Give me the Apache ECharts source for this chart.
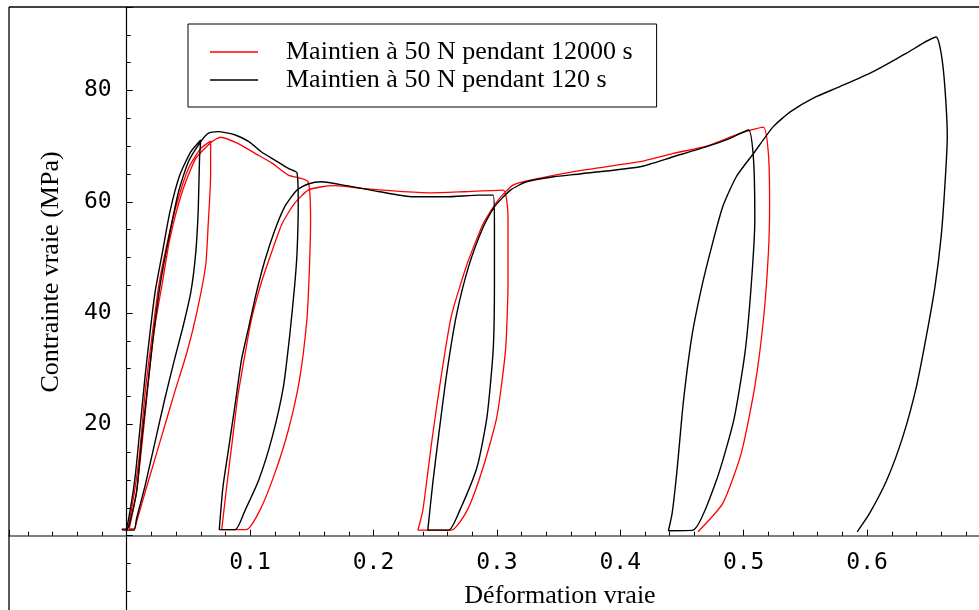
<!DOCTYPE html>
<html>
<head>
<meta charset="utf-8">
<script src="https://cdn.jsdelivr.net/npm/echarts@6/dist/echarts.min.js"></script>
<style>html,body{margin:0;padding:0;background:#fff;}#c{width:979px;height:610px;}</style>
</head>
<body>
<div id="c"></div>
<script>
// Series names
const seriesNames = ['Maintien à 50 N pendant 12000 s', 'Maintien à 50 N pendant 120 s'];
const xAxisName = 'Déformation vraie';
const yAxisName = 'Contrainte vraie (MPa)';

// [true strain, true stress MPa] – hold 12000 s (red)
const red12000 = [
  [-0.004,1.2],[0.000,1.2],[0.004,4.9],[0.010,13.9],[0.015,25.9],[0.021,36.7],[0.026,45.0],[0.033,52.8],[0.041,60.0],[0.050,66.0],[0.060,69.6],[0.068,70.9],
  [0.068,64.8],[0.066,55.8],[0.064,48.6],[0.057,40.3],[0.049,33.1],[0.039,25.9],[0.031,19.9],[0.023,13.9],[0.015,7.9],[0.008,2.5],[0.006,1.2],[0.002,1.2],
  [0.008,7.9],[0.014,19.9],[0.019,30.7],[0.023,37.9],[0.029,45.6],[0.035,53.4],[0.045,61.8],[0.056,67.8],[0.069,70.8],[0.076,71.6],[0.090,70.5],[0.104,68.7],[0.118,66.9],[0.131,64.8],[0.147,63.6],
  [0.149,56.7],[0.148,47.7],[0.146,38.8],[0.140,28.0],[0.131,19.0],[0.120,11.2],[0.108,4.6],[0.097,1.1],[0.077,1.1],
  [0.081,8.8],[0.085,16.0],[0.090,25.0],[0.096,32.8],[0.101,38.8],[0.109,45.4],[0.118,51.3],[0.126,56.1],[0.136,59.7],[0.147,62.1],[0.158,62.7],[0.169,62.9],[0.191,62.4],[0.219,61.9],[0.246,61.6],[0.273,61.8],[0.305,62.1],
  [0.309,57.3],[0.309,45.4],[0.307,33.4],[0.300,21.4],[0.289,12.4],[0.276,4.6],[0.263,1.0],[0.236,1.0],
  [0.240,4.6],[0.247,16.6],[0.254,27.4],[0.263,39.4],[0.276,48.9],[0.289,56.1],[0.301,60.3],[0.313,63.0],[0.327,63.9],[0.367,65.6],[0.416,67.2],[0.443,68.7],[0.470,70.0],[0.497,72.3],[0.516,73.4],
  [0.520,68.7],[0.521,59.7],[0.520,50.7],[0.516,38.8],[0.509,26.8],[0.498,14.8],[0.483,5.8],[0.463,0.7]
];

// [true strain, true stress MPa] – hold 120 s (black)
const black120 = [
  [-0.004,1.1],[-0.001,1.0],[0.003,4.9],[0.007,10.9],[0.011,19.9],[0.015,28.9],[0.019,36.7],[0.023,43.8],[0.029,51.0],[0.035,58.2],[0.043,64.8],[0.052,69.0],[0.060,71.1],
  [0.059,67.8],[0.058,58.8],[0.056,51.0],[0.052,43.8],[0.046,37.9],[0.039,31.9],[0.031,24.7],[0.023,16.9],[0.015,9.1],[0.008,3.1],[0.006,1.0],[0.000,1.0],
  [0.002,1.9],[0.008,7.9],[0.012,16.9],[0.018,28.9],[0.022,36.7],[0.027,45.0],[0.034,53.4],[0.042,61.8],[0.050,67.2],[0.060,70.8],[0.066,72.3],[0.074,72.6],[0.088,72.0],[0.099,70.8],[0.109,69.0],[0.120,67.5],[0.131,66.0],[0.138,65.2],
  [0.139,59.7],[0.138,50.7],[0.136,44.7],[0.132,35.8],[0.127,26.8],[0.118,17.8],[0.107,10.0],[0.096,4.6],[0.088,1.1],[0.075,1.1],
  [0.078,8.8],[0.082,14.8],[0.088,23.8],[0.093,31.6],[0.099,37.6],[0.105,43.6],[0.112,49.5],[0.120,54.9],[0.128,59.1],[0.138,62.1],[0.147,63.2],[0.158,63.6],[0.178,62.9],[0.205,61.8],[0.232,60.9],[0.259,60.9],[0.286,61.2],[0.297,61.2],
  [0.298,55.5],[0.298,45.4],[0.297,33.4],[0.292,21.4],[0.284,12.4],[0.270,4.6],[0.261,1.0],[0.244,1.0],
  [0.248,9.4],[0.253,18.4],[0.259,28.6],[0.267,39.4],[0.277,48.3],[0.289,55.5],[0.298,59.1],[0.311,62.1],[0.324,63.6],[0.346,64.5],[0.367,65.0],[0.416,66.3],[0.443,68.1],[0.470,69.9],[0.489,71.4],[0.504,72.9],
  [0.508,67.5],[0.509,56.7],[0.506,44.7],[0.501,32.8],[0.492,20.8],[0.478,10.0],[0.459,1.0],[0.439,0.9],
  [0.442,4.0],[0.446,11.8],[0.451,23.8],[0.458,35.8],[0.466,44.7],[0.474,51.9],[0.483,59.1],[0.494,64.5],[0.508,68.7],[0.524,73.5],[0.538,76.2],[0.556,78.6],[0.578,80.7],[0.605,83.4],[0.632,86.7],[0.656,89.6],
  [0.660,86.7],[0.663,80.7],[0.665,71.7],[0.663,62.7],[0.660,53.7],[0.655,44.7],[0.648,35.8],[0.640,26.8],[0.629,17.8],[0.616,10.0],[0.602,4.0],[0.592,0.7]
];

// axis extents matching the framed plot area
const xMin = -0.0954, xMax = 0.6907;
const yMin = -13.35, yMax = 95.0;

const W = 979, H = 610;
const gridBox = { left: 9, top: 7, right: 0, bottom: 0 };
const gridW = W - gridBox.left - gridBox.right;
const gridH = H - gridBox.top - gridBox.bottom;
// axes cross at the origin: shift each axis from the grid edge to zero of the other axis
const xAxisOffset = -((0 - yMin) / (yMax - yMin)) * gridH;
const yAxisOffset = -((0 - xMin) / (xMax - xMin)) * gridW;

const chart = echarts.init(document.getElementById('c'), null, {renderer: 'canvas'});
const monoFont = '"DejaVu Sans Mono", monospace';
const serifFont = '"Liberation Serif", "Times New Roman", serif';
const isMult = (v, step) => Math.abs(v / step - Math.round(v / step)) < 1e-6;

chart.setOption({
  animation: false,
  backgroundColor: '#fff',
  grid: {
    left: gridBox.left, top: gridBox.top, right: gridBox.right, bottom: gridBox.bottom, containLabel: false,
    outerBounds: { left: -200, top: -200, right: -200, bottom: -200 }
  },
  legend: {
    orient: 'vertical',
    left: 188, top: 24,
    padding: [15, 24, 14, 22],
    backgroundColor: '#fff',
    borderColor: '#000', borderWidth: 1,
    icon: 'rect',
    itemWidth: 48, itemHeight: 1.5, itemGap: 2,
    textStyle: { fontFamily: serifFont, fontSize: 26, lineHeight: 26, color: '#000', padding: [0, 0, 0, 23] },
    data: seriesNames
  },
  xAxis: {
    type: 'value', min: xMin, max: xMax, splitNumber: 8,
    position: 'bottom', offset: xAxisOffset,
    axisLine: { onZero: false, lineStyle: { color: '#555', width: 1.5 } },
    axisTick: { inside: true, length: 6, lineStyle: { color: '#000', width: 1 } },
    minorTick: { show: true, splitNumber: 5, length: 4, lineStyle: { color: '#000', width: 1 } },
    splitLine: { show: false },
    axisLabel: {
      margin: 16, fontFamily: monoFont, fontSize: 23, color: '#000',
      formatter: v => (v > 0.0001 && isMult(v, 0.1) ? v.toFixed(1) : '')
    }
  },
  yAxis: {
    type: 'value', min: yMin, max: yMax, splitNumber: 6,
    position: 'left', offset: yAxisOffset,
    axisLine: { onZero: false, lineStyle: { color: '#000', width: 1.2 } },
    axisTick: { inside: true, length: 6, lineStyle: { color: '#000', width: 1 } },
    minorTick: { show: true, splitNumber: 4, length: 4, lineStyle: { color: '#000', width: 1 } },
    splitLine: { show: false },
    axisLabel: {
      margin: 15, fontFamily: monoFont, fontSize: 23, color: '#000',
      formatter: v => (v > 0 && isMult(v, 20) ? String(Math.round(v)) : '')
    }
  },
  series: [
    { name: seriesNames[0], type: 'line', data: red12000, symbol: 'none', showSymbol: false, smooth: 0.2,
      color: '#ff0000', lineStyle: { color: '#ff0000', width: 1.3 }, z: 2 },
    { name: seriesNames[1], type: 'line', data: black120, symbol: 'none', showSymbol: false, smooth: 0.2,
      color: '#000000', lineStyle: { color: '#000000', width: 1.4 }, z: 3 }
  ],
  graphic: [
    { type: 'line', z: 101, silent: true, shape: { x1: 9, y1: 7, x2: 979, y2: 7 }, style: { stroke: '#000', lineWidth: 1.3 } },
    { type: 'line', z: 101, silent: true, shape: { x1: 9, y1: 7, x2: 9, y2: 610 }, style: { stroke: '#000', lineWidth: 1.3 } },
    { type: 'text', z: 101, x: 560, y: 596, style: { text: xAxisName, font: '26px ' + serifFont, fill: '#000', align: 'center', verticalAlign: 'middle' } },
    { type: 'text', z: 101, x: 51, y: 272, rotation: Math.PI / 2, style: { text: yAxisName, font: '26px ' + serifFont, fill: '#000', align: 'center', verticalAlign: 'middle' } }
  ]
});
</script>
</body>
</html>
